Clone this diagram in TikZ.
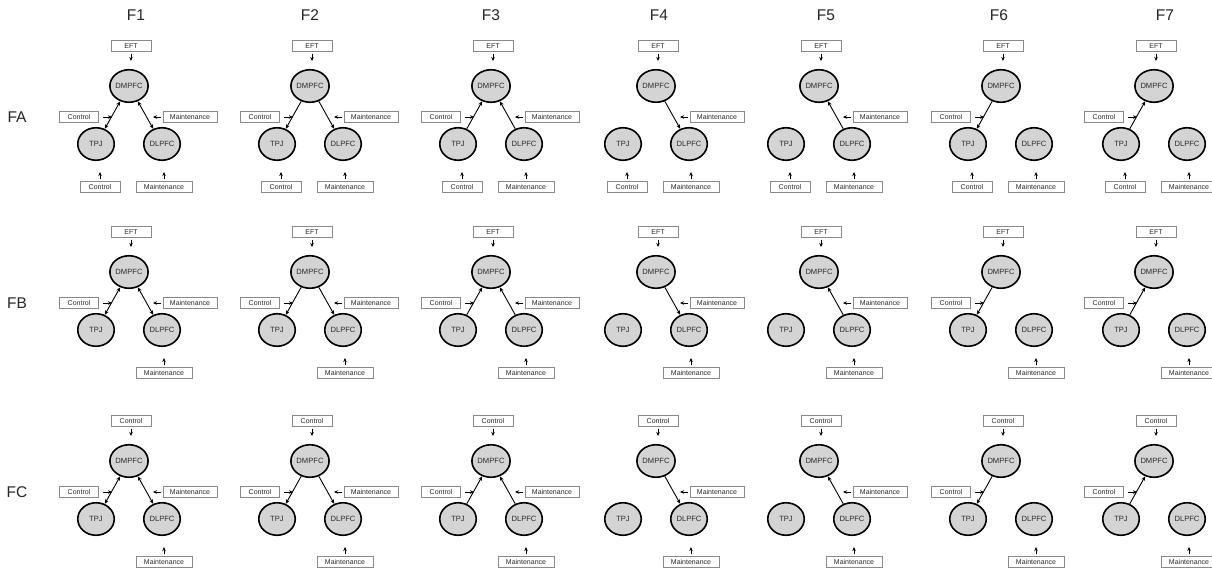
\documentclass[tikz,border=0pt]{standalone}
\usepackage{fontspec}
\setmainfont{Liberation Sans}
\usetikzlibrary{shapes.geometric,arrows.meta}
\definecolor{boxgray}{HTML}{8A8A8A}
\definecolor{regfill}{HTML}{D4D4D4}
\definecolor{txt}{HTML}{2A2A2A}
\tikzset{
 reg/.style={ellipse, draw=black, line width=1.6pt, fill=regfill, minimum width=36.5pt, minimum height=32.5pt, inner sep=0pt, font=\fontsize{7.6}{8}\selectfont, text=txt},
 inp/.style={rectangle, draw=boxgray, line width=0.7pt, fill=white, minimum height=10.5pt, inner sep=0pt, font=\fontsize{7}{7}\selectfont, text=txt},
 sarr/.style={-{Stealth[length=4pt,width=3.5pt]}, line width=0.8pt, black},
 link/.style={line width=0.9pt, black},
 hdr/.style={font=\fontsize{15.5}{17}\selectfont, text=black!85},
}
\newcommand{\Pnl}[4]{%
  \node[reg] (#1d) at (#2,#3) {DMPFC};
  \node[reg] (#1t) at (#2-33,#3+58) {TPJ};
  \node[reg] (#1l) at (#2+33,#3+58) {DLPFC};
  \node[inp,minimum width=40.3pt] (#1x) at (#2+2,#3-40) {#4};
  \coordinate (#1xa) at (#2+2,#3-25);
  \draw[sarr,shorten <=2pt] (#1x.south) -- (#1xa);
  \node[inp,minimum width=56pt] (#1bl) at (#2+35,#3+101) {Maintenance};
  \coordinate (#1bla) at (#2+35,#3+86);
  \draw[sarr,shorten <=2pt] (#1bl.north) -- (#1bla);
}
\newcommand{\CtlL}[3]{%
  \node[inp,minimum width=39.3pt] (#1cl) at (#2-50,#3+31) {Control};
  \coordinate (#1cla) at (#2-17,#3+31);
  \draw[sarr,shorten <=4pt] (#1cl.east) -- (#1cla);
}
\newcommand{\MntR}[3]{%
  \node[inp,minimum width=54.3pt] (#1mr) at (#2+61,#3+31) {Maintenance};
  \coordinate (#1mra) at (#2+24,#3+31);
  \draw[sarr,shorten <=1.5pt] (#1mr.west) -- (#1mra);
}
\newcommand{\BotT}[3]{%
  \node[inp,minimum width=40.3pt] (#1bt) at (#2-29,#3+101) {Control};
  \coordinate (#1bta) at (#2-29,#3+86);
  \draw[sarr,shorten <=2pt] (#1bt.north) -- (#1bta);
}
\begin{document}
\begin{tikzpicture}[x=1pt,y=-1pt,>={Stealth[length=4.5pt,width=3.8pt]}]
\useasboundingbox (0,0) rectangle (1212,573);
\clip (0,0) rectangle (1212,573);
\fill[white] (0,0) rectangle (1212,573);
% column headers
\node[hdr] (h1) at (136,15) {F1};
\node[hdr] (h2) at (310,15) {F2};
\node[hdr] (h3) at (491,15) {F3};
\node[hdr] (h4) at (659,15) {F4};
\node[hdr] (h5) at (826,15) {F5};
\node[hdr] (h6) at (999,15) {F6};
\node[hdr] (h7) at (1165,15) {F7};
% row headers
\node[hdr] (ra) at (17,117) {FA};
\node[hdr] (rb) at (17,303) {FB};
\node[hdr] (rc) at (17,492) {FC};
\foreach \r/\y/\toplab in {a/86/EFT,b/272/EFT,c/461/Control}{
  % F1
  \Pnl{\r1}{129}{\y}{\toplab}\CtlL{\r1}{129}{\y}\MntR{\r1}{129}{\y}
  \draw[link,<->] (\r1d.240) -- (\r1t.60);
  \draw[link,<->] (\r1d.300) -- (\r1l.120);
  % F2
  \Pnl{\r2}{310}{\y}{\toplab}\CtlL{\r2}{310}{\y}\MntR{\r2}{310}{\y}
  \draw[link,->] (\r2d.240) -- (\r2t.60);
  \draw[link,->] (\r2d.300) -- (\r2l.120);
  % F3
  \Pnl{\r3}{491}{\y}{\toplab}\CtlL{\r3}{491}{\y}\MntR{\r3}{491}{\y}
  \draw[link,->] (\r3t.60) -- (\r3d.240);
  \draw[link,->] (\r3l.120) -- (\r3d.300);
  % F4
  \Pnl{\r4}{656}{\y}{\toplab}\MntR{\r4}{656}{\y}
  \draw[link,->] (\r4d.300) -- (\r4l.120);
  % F5
  \Pnl{\r5}{819}{\y}{\toplab}\MntR{\r5}{819}{\y}
  \draw[link,->] (\r5l.120) -- (\r5d.300);
  % F6
  \Pnl{\r6}{1001}{\y}{\toplab}\CtlL{\r6}{1001}{\y}
  \draw[link,->] (\r6d.240) -- (\r6t.60);
  % F7
  \Pnl{\r7}{1154}{\y}{\toplab}\CtlL{\r7}{1154}{\y}
  \draw[link,->] (\r7t.60) -- (\r7d.240);
}
\foreach \c/\x in {1/129,2/310,3/491,4/656,5/819,6/1001,7/1154}{
  \BotT{a\c}{\x}{86}
}
\end{tikzpicture}
\end{document}
